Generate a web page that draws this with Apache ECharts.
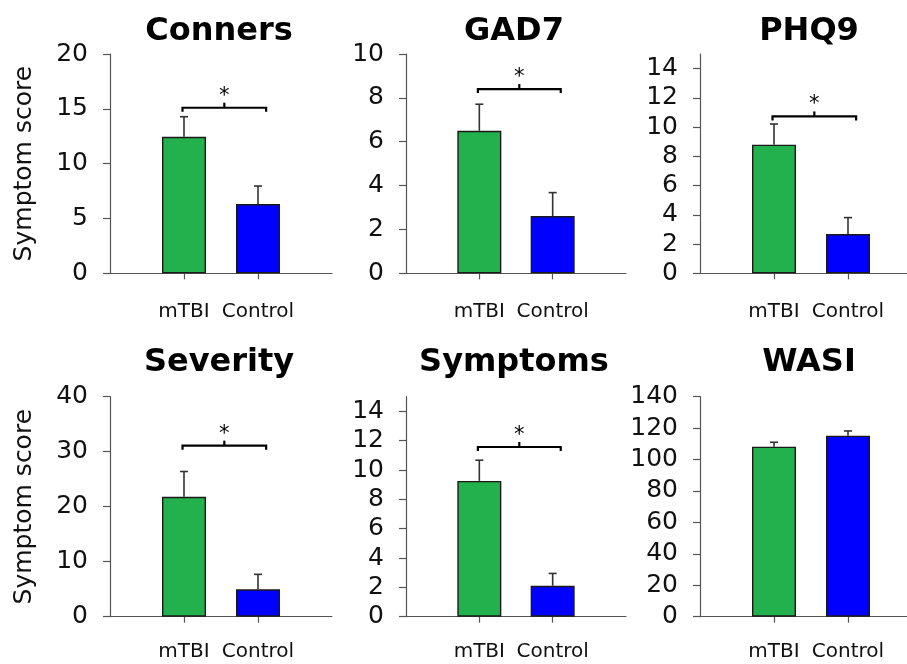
<!DOCTYPE html>
<html>
<head>
<meta charset="utf-8">
<script src="https://cdn.jsdelivr.net/npm/echarts@6.0.0/dist/echarts.min.js"></script>
<style>
html,body{margin:0;padding:0;background:#fff;}
#chart{width:907px;height:664px;}
</style>
</head>
<body>
<div id="chart"></div>
<script>
// ---- data ----
const categories = ['mTBI', 'Control'];
const panelTitles = ['Conners', 'GAD7', 'PHQ9', 'Severity', 'Symptoms', 'WASI'];
const meansConners = [12.45, 6.32];
const meansGAD7 = [6.50, 2.61];
const meansPHQ9 = [8.80, 2.68];
const meansSeverity = [21.8, 4.98];
const meansSymptoms = [9.26, 2.11];
const meansWASI = [108.2, 115.2];
const errTopConners = [14.28, 7.96];
const errTopGAD7 = [7.71, 3.68];
const errTopPHQ9 = [10.21, 3.81];
const errTopSeverity = [26.4, 7.7];
const errTopSymptoms = [10.67, 2.95];
const errTopWASI = [111.0, 118.2];
const sigConners = 15.1;
const sigGAD7 = 8.4;
const sigPHQ9 = 10.73;
const sigSeverity = 31.1;
const sigSymptoms = 11.57;
const sigWASI = null;
const ticksConners = [0, 5, 10, 15, 20];
const ticksGAD7 = [0, 2, 4, 6, 8, 10];
const ticksPHQ9 = [0, 2, 4, 6, 8, 10, 12, 14];
const ticksSeverity = [0, 10, 20, 30, 40];
const ticksSymptoms = [0, 2, 4, 6, 8, 10, 12, 14];
const ticksWASI = [0, 20, 40, 60, 80, 100, 120, 140];
const yMax = [20, 10, 15, 40, 15, 140];

const means = [meansConners, meansGAD7, meansPHQ9, meansSeverity, meansSymptoms, meansWASI];
const errTops = [errTopConners, errTopGAD7, errTopPHQ9, errTopSeverity, errTopSymptoms, errTopWASI];
const sigs = [sigConners, sigGAD7, sigPHQ9, sigSeverity, sigSymptoms, sigWASI];
const yTicks = [ticksConners, ticksGAD7, ticksPHQ9, ticksSeverity, ticksSymptoms, ticksWASI];

// ---- layout / style ----
const colLeft = [110, 406, 700];
const colWidth = [222, 220, 222];
const rowTop = [54, 396.7];
const rowHeight = [219.3, 220];
const titleTop = [16, 347];
const catMargin = [28, 25];
const barColors = ['#22B14C', '#0000FF'];
const FONT = 'DejaVu Sans';
const axisColor = '#555555';

const chart = echarts.init(document.getElementById('chart'));

const grids = [], xAxes = [], yAxes = [], series = [], titles = [];
for (let p = 0; p < 6; p++) {
  const r = Math.floor(p / 3), c = p % 3;
  grids.push({
    left: colLeft[c], top: rowTop[r], width: colWidth[c], height: rowHeight[r],
    containLabel: false, outerBoundsMode: 'none'
  });
  titles.push({
    text: panelTitles[p],
    left: colLeft[c] + colWidth[c] / 2 - 2,
    top: titleTop[r],
    padding: 0,
    textAlign: 'center',
    textStyle: { fontFamily: FONT, fontWeight: 'bold', fontSize: 32, color: '#000' }
  });
  xAxes.push({
    type: 'value', gridIndex: p, min: 0, max: 3,
    axisLine: { show: true, lineStyle: { color: axisColor, width: 1.2 } },
    axisTick: { show: true, length: 6, customValues: [1, 2], lineStyle: { color: axisColor, width: 1.2 } },
    axisLabel: {
      show: true, customValues: [1, 2], margin: catMargin[r],
      formatter: v => categories[Math.round(v) - 1] || '',
      fontFamily: FONT, fontSize: 20, color: '#111'
    },
    splitLine: { show: false }
  });
  yAxes.push({
    type: 'value', gridIndex: p, min: 0, max: yMax[p],
    name: c === 0 ? 'Symptom score' : '',
    nameLocation: 'middle', nameGap: 73, nameRotate: 90,
    nameTextStyle: { fontFamily: FONT, fontSize: 25, color: '#111' },
    axisLine: { show: true, lineStyle: { color: axisColor, width: 1.2 } },
    axisTick: { show: true, length: 7, customValues: yTicks[p], lineStyle: { color: axisColor, width: 1.2 } },
    axisLabel: {
      show: true, customValues: yTicks[p], margin: 22,
      fontFamily: FONT, fontSize: 25, color: '#111'
    },
    splitLine: { show: false }
  });
  series.push({
    type: 'bar', xAxisIndex: p, yAxisIndex: p, barWidth: 44,
    data: means[p].map((v, i) => ({
      value: [i + 1, v],
      itemStyle: { color: barColors[i], borderColor: '#1a1a1a', borderWidth: 1.4 }
    })),
    silent: true, animation: false, z: 2
  });
  series.push({
    type: 'custom', xAxisIndex: p, yAxisIndex: p,
    data: means[p].map((v, i) => [i + 1, v, errTops[p][i]]),
    renderItem: (params, api) => {
      const a = api.coord([api.value(0), api.value(1)]);
      const b = api.coord([api.value(0), api.value(2)]);
      return {
        type: 'group', children: [
          { type: 'line', shape: { x1: a[0], y1: a[1], x2: b[0], y2: b[1] }, style: { stroke: '#333', lineWidth: 1.6 } },
          { type: 'line', shape: { x1: b[0] - 4, y1: b[1], x2: b[0] + 4, y2: b[1] }, style: { stroke: '#333', lineWidth: 1.6 } }
        ]
      };
    },
    silent: true, animation: false, z: 3
  });
  if (sigs[p] !== null) {
    series.push({
      type: 'custom', xAxisIndex: p, yAxisIndex: p,
      data: [[0.98, 2.11, sigs[p]]],
      renderItem: (params, api) => {
        const a = api.coord([api.value(0), api.value(2)]);
        const b = api.coord([api.value(1), api.value(2)]);
        const mx = (a[0] + b[0]) / 2;
        return {
          type: 'group', children: [
            { type: 'polyline', shape: { points: [[a[0], a[1] + 4], [a[0], a[1]], [b[0], b[1]], [b[0], b[1] + 4]] },
              style: { stroke: '#000', lineWidth: 2.2, fill: null } },
            { type: 'line', shape: { x1: mx, y1: a[1], x2: mx, y2: a[1] - 5 }, style: { stroke: '#000', lineWidth: 2.2 } },
            { type: 'text', x: mx, y: a[1] - 1, style: { text: '*', fontFamily: FONT, fontSize: 21, fill: '#000', align: 'center', verticalAlign: 'bottom' } }
          ]
        };
      },
      silent: true, animation: false, z: 4
    });
  }
}

chart.setOption({
  backgroundColor: '#fff',
  animation: false,
  title: titles,
  grid: grids,
  xAxis: xAxes,
  yAxis: yAxes,
  series: series
});
</script>
</body>
</html>
